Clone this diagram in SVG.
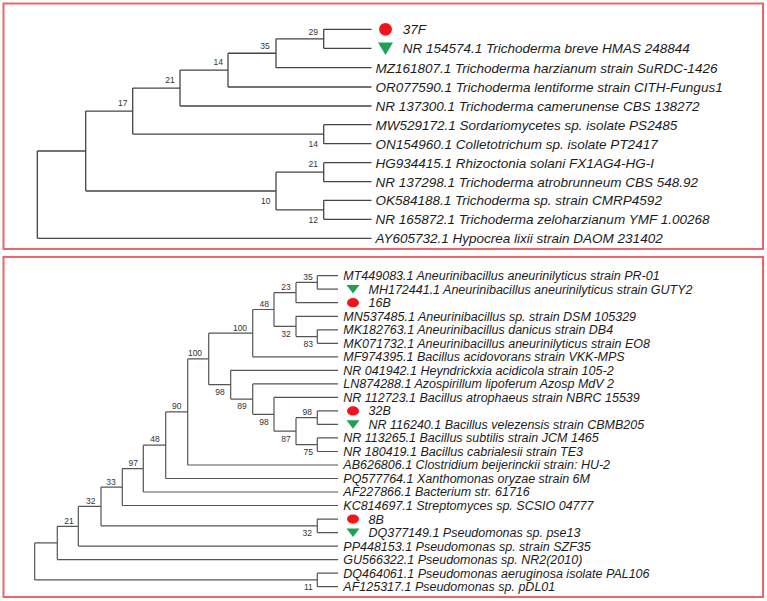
<svg xmlns="http://www.w3.org/2000/svg" width="767" height="601" viewBox="0 0 767 601">
<style>
.frame{fill:none;stroke:#e8666a;stroke-width:2}
.edgeT{fill:none;stroke:#454545;stroke-width:1.3}
.edgeB{fill:none;stroke:#555;stroke-width:1.2}
.t{font-family:"Liberation Sans",Arial,sans-serif;font-style:italic;font-size:13.5px;fill:#1c1c1c}
.b{font-family:"Liberation Sans",Arial,sans-serif;font-style:italic;font-size:12.5px;fill:#1c1c24}
.bs{font-family:"Liberation Sans",Arial,sans-serif;font-size:8.5px;fill:#333;text-anchor:middle}
.red{fill:#f2141a}
.grn{fill:#20a050}
</style>
<rect width="767" height="601" fill="#fff"/>
<rect class="frame" x="3.5" y="3.5" width="759.5" height="245.5"/>
<rect class="frame" x="3.5" y="257" width="759.5" height="340"/>

<g id="connectors">
<path class="edgeT" d="M323.7,29.3V48.3M276,38.8V67.7M228,53.25V87M180,70.1V106M323.7,124.7V143.7M132.7,88.05V134.2M323.7,162.7V181.7M323.7,200.3V219.3M276,172.2V209.8M85.7,111.1V191M37.3,151V238.3
M323.7,29.3H371.5M323.7,48.3H371.5M276,67.7H371.5M228,87H371.5M180,106H371.5M323.7,124.7H371.5M323.7,143.7H371.5M323.7,162.7H371.5M323.7,181.7H371.5M323.7,200.3H371.5M323.7,219.3H371.5M37.3,238.3H371.5
M276,38.8H323.7M228,53.25H276M180,70.1H228M132.7,88.05H180M132.7,134.2H323.7M85.7,111.1H132.7M276,172.2H323.7M276,209.8H323.7M85.7,191H276M37.3,151H85.7"/>
<path class="edgeB" d="M317.3,275.7V289.2M296,282.45V302.7M317.3,329.8V343.3M296,316.3V336.55M274,292.6V326.4M252.7,309.5V356.8M317.3,410.9V424.4M317.3,437.9V451.5M296,417.65V444.7M274,397.4V431.2M252.7,383.9V414.3M230.7,370.3V399.1M208.7,333.15V384.7M187.7,358.9V465M165.7,411.95V478.5M143.3,445.2V492M122.3,468.6V505.5M317.3,519.1V532.6M101,487.05V525.85M78.3,506.45V546.1M57.3,526.3V559.6M317.3,573.1V586.7M34.7,542.95V579.9
M317.3,275.7H338M317.3,289.2H338M296,302.7H338M296,316.3H338M317.3,329.8H338M317.3,343.3H338M252.7,356.8H338M230.7,370.3H338M252.7,383.9H338M274,397.4H338M317.3,410.9H338M317.3,424.4H338M317.3,437.9H338M317.3,451.5H338M187.7,465H338M165.7,478.5H338M143.3,492H338M122.3,505.5H338M317.3,519.1H338M317.3,532.6H338M78.3,546.1H338M57.3,559.6H338M317.3,573.1H338M317.3,586.7H338
M296,282.45H317.3M274,292.6H296M296,336.55H317.3M274,326.4H296M252.7,309.5H274M208.7,333.15H252.7M296,417.65H317.3M296,444.7H317.3M274,431.2H296M252.7,414.3H274M230.7,399.1H252.7M208.7,384.7H230.7M187.7,358.9H208.7M165.7,411.95H187.7M143.3,445.2H165.7M122.3,468.6H143.3M101,487.05H122.3M101,525.85H317.3M78.3,506.45H101M57.3,526.3H78.3M34.7,542.95H57.3M34.7,579.9H317.3"/>
</g>

<g id="bootstrap-top">
<text class="bs" x="313.3" y="35.3">29</text>
<text class="bs" x="265" y="48.7">35</text>
<text class="bs" x="218.3" y="65.3">14</text>
<text class="bs" x="170" y="83">21</text>
<text class="bs" x="122.7" y="105.7">17</text>
<text class="bs" x="313.3" y="147">14</text>
<text class="bs" x="313.3" y="167">21</text>
<text class="bs" x="265.7" y="204">10</text>
<text class="bs" x="313.3" y="223">12</text>
</g>

<g id="bootstrap-bottom">
<text class="bs" x="308" y="279.7">35</text>
<text class="bs" x="286" y="290.3">23</text>
<text class="bs" x="264.3" y="307">48</text>
<text class="bs" x="286" y="337">32</text>
<text class="bs" x="308.3" y="347.3">83</text>
<text class="bs" x="240" y="330.7">100</text>
<text class="bs" x="195" y="355.7">100</text>
<text class="bs" x="220" y="394.7">98</text>
<text class="bs" x="242" y="409">89</text>
<text class="bs" x="264" y="424.7">98</text>
<text class="bs" x="286" y="442">87</text>
<text class="bs" x="307.3" y="414.7">98</text>
<text class="bs" x="308.3" y="454.7">75</text>
<text class="bs" x="176.7" y="408.7">90</text>
<text class="bs" x="155" y="442.3">48</text>
<text class="bs" x="133.3" y="465.7">97</text>
<text class="bs" x="111" y="484.7">33</text>
<text class="bs" x="90.7" y="503.7">32</text>
<text class="bs" x="307.3" y="535.7">32</text>
<text class="bs" x="69" y="523.7">21</text>
<text class="bs" x="308.3" y="590.3">11</text>
</g>

<g id="leaf-37F"><circle class="red" cx="385.5" cy="29.3" r="6.4"/><text class="t" x="402.7" y="34.1">37F</text></g>
<g id="leaf-NR154574"><polygon class="grn" points="378,42.5 393,42.5 385.5,55"/><text class="t" x="402.7" y="53.1">NR 154574.1 Trichoderma breve HMAS 248844</text></g>
<g id="leaf-MZ161807"><text class="t" x="375.5" y="72.5">MZ161807.1 Trichoderma harzianum strain SuRDC-1426</text></g>
<g id="leaf-OR077590"><text class="t" x="375.5" y="91.8">OR077590.1 Trichoderma lentiforme strain CITH-Fungus1</text></g>
<g id="leaf-NR137300"><text class="t" x="375.5" y="110.8">NR 137300.1 Trichoderma camerunense CBS 138272</text></g>
<g id="leaf-MW529172"><text class="t" x="375.5" y="129.5">MW529172.1 Sordariomycetes sp. isolate PS2485</text></g>
<g id="leaf-ON154960"><text class="t" x="375.5" y="148.5">ON154960.1 Colletotrichum sp. isolate PT2417</text></g>
<g id="leaf-HG934415"><text class="t" x="375.5" y="167.5">HG934415.1 Rhizoctonia solani FX1AG4-HG-I</text></g>
<g id="leaf-NR137298"><text class="t" x="375.5" y="186.5">NR 137298.1 Trichoderma atrobrunneum CBS 548.92</text></g>
<g id="leaf-OK584188"><text class="t" x="375.5" y="205.1">OK584188.1 Trichoderma sp. strain CMRP4592</text></g>
<g id="leaf-NR165872"><text class="t" x="375.5" y="224.1">NR 165872.1 Trichoderma zeloharzianum YMF 1.00268</text></g>
<g id="leaf-AY605732"><text class="t" x="375.5" y="243.1">AY605732.1 Hypocrea lixii strain DAOM 231402</text></g>

<g id="leaf-MT449083"><text class="b" x="343.3" y="280.1">MT449083.1 Aneurinibacillus aneurinilyticus strain PR-01</text></g>
<g id="leaf-MH172441"><polygon class="grn" points="346.5,285 359.5,285 353,293.5"/><text class="b" x="368.5" y="293.6">MH172441.1 Aneurinibacillus aneurinilyticus strain GUTY2</text></g>
<g id="leaf-16B"><ellipse class="red" cx="353" cy="302.7" rx="6" ry="4.6"/><text class="b" x="368.5" y="307.1">16B</text></g>
<g id="leaf-MN537485"><text class="b" x="343.3" y="320.7">MN537485.1 Aneurinibacillus sp. strain DSM 105329</text></g>
<g id="leaf-MK182763"><text class="b" x="343.3" y="334.2">MK182763.1 Aneurinibacillus danicus strain DB4</text></g>
<g id="leaf-MK071732"><text class="b" x="343.3" y="347.7">MK071732.1 Aneurinibacillus aneurinilyticus strain EO8</text></g>
<g id="leaf-MF974395"><text class="b" x="343.3" y="361.2">MF974395.1 Bacillus acidovorans strain VKK-MPS</text></g>
<g id="leaf-NR041942"><text class="b" x="343.3" y="374.7">NR 041942.1 Heyndrickxia acidicola strain 105-2</text></g>
<g id="leaf-LN874288"><text class="b" x="343.3" y="388.3">LN874288.1 Azospirillum lipoferum Azosp MdV 2</text></g>
<g id="leaf-NR112723"><text class="b" x="343.3" y="401.8">NR 112723.1 Bacillus atrophaeus strain NBRC 15539</text></g>
<g id="leaf-32B"><ellipse class="red" cx="353" cy="410.9" rx="6" ry="4.6"/><text class="b" x="368.5" y="415.3">32B</text></g>
<g id="leaf-NR116240"><polygon class="grn" points="346.5,420.2 359.5,420.2 353,428.7"/><text class="b" x="368.5" y="428.8">NR 116240.1 Bacillus velezensis strain CBMB205</text></g>
<g id="leaf-NR113265"><text class="b" x="343.3" y="442.3">NR 113265.1 Bacillus subtilis strain JCM 1465</text></g>
<g id="leaf-NR180419"><text class="b" x="343.3" y="455.9">NR 180419.1 Bacillus cabrialesii strain TE3</text></g>
<g id="leaf-AB626806"><text class="b" x="343.3" y="469.4">AB626806.1 Clostridium beijerinckii strain: HU-2</text></g>
<g id="leaf-PQ577764"><text class="b" x="343.3" y="482.9">PQ577764.1 Xanthomonas oryzae strain 6M</text></g>
<g id="leaf-AF227866"><text class="b" x="343.3" y="496.4">AF227866.1 Bacterium str. 61716</text></g>
<g id="leaf-KC814697"><text class="b" x="343.3" y="509.9">KC814697.1 Streptomyces sp. SCSIO 04777</text></g>
<g id="leaf-8B"><ellipse class="red" cx="353" cy="519.1" rx="6" ry="4.6"/><text class="b" x="368.5" y="523.5">8B</text></g>
<g id="leaf-DQ377149"><polygon class="grn" points="346.5,528.4 359.5,528.4 353,536.9"/><text class="b" x="368.5" y="537">DQ377149.1 Pseudomonas sp. pse13</text></g>
<g id="leaf-PP448153"><text class="b" x="343.3" y="550.5">PP448153.1 Pseudomonas sp. strain SZF35</text></g>
<g id="leaf-GU566322"><text class="b" x="343.3" y="564">GU566322.1 Pseudomonas sp. NR2(2010)</text></g>
<g id="leaf-DQ464061"><text class="b" x="343.3" y="577.5">DQ464061.1 Pseudomonas aeruginosa isolate PAL106</text></g>
<g id="leaf-AF125317"><text class="b" x="343.3" y="591.1">AF125317.1 Pseudomonas sp. pDL01</text></g>
</svg>
